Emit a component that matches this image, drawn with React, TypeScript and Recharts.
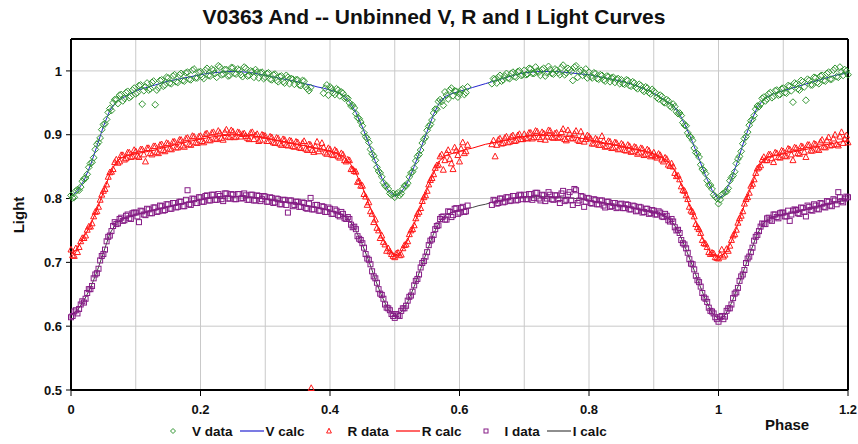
import React from 'react';
import { ComposedChart, Scatter, Line, XAxis, YAxis, CartesianGrid } from 'recharts';

// ---- sampling grids (phase) ----
const calcPhase: number[] = Array.from({ length: 121 }, (_, k) => k / 100);
const dataPhase: number[] = Array.from({ length: 241 }, (_, k) => (k * 5) / 1000);
const dataPhase2: number[] = Array.from({ length: 240 }, (_, k) => (k * 5 + 2.5) / 1000);

const xTicks = [0, 0.1, 0.2, 0.3, 0.4, 0.5, 0.6, 0.7, 0.8, 0.9, 1, 1.1, 1.2];
const xLabelTicks = [0, 0.2, 0.4, 0.6, 0.8, 1, 1.2];
const yTicks = [0.5, 0.6, 0.7, 0.8, 0.9, 1];

// ---- model (calc) curves, phase step 0.01 ----
const vCalc = [
  0.803, 0.812, 0.828, 0.852, 0.882, 0.913, 0.938, 0.952, 0.958, 0.963,
  0.969, 0.972, 0.975, 0.978, 0.981, 0.984, 0.986, 0.988, 0.990, 0.992,
  0.994, 0.996, 0.997, 0.998, 0.999, 0.999, 0.999, 0.998, 0.997, 0.995,
  0.993, 0.991, 0.989, 0.987, 0.985, 0.983, 0.980, 0.978, 0.975, 0.973,
  0.970, 0.967, 0.962, 0.952, 0.935, 0.912, 0.886, 0.858, 0.832, 0.813,
  0.804, 0.810, 0.826, 0.850, 0.878, 0.905, 0.932, 0.952, 0.961, 0.965,
  0.968, 0.971, 0.974, 0.977, 0.980, 0.983, 0.986, 0.989, 0.992, 0.995,
  0.997, 0.998, 0.999, 0.999, 0.999, 0.999, 0.998, 0.997, 0.996, 0.995,
  0.994, 0.992, 0.990, 0.988, 0.986, 0.984, 0.981, 0.978, 0.974, 0.970,
  0.965, 0.959, 0.952, 0.946, 0.932, 0.912, 0.888, 0.862, 0.836, 0.813,
  0.799, 0.808, 0.831, 0.860, 0.892, 0.920, 0.943, 0.956, 0.962, 0.966,
  0.969, 0.972, 0.975, 0.978, 0.981, 0.984, 0.987, 0.990, 0.993, 0.995,
  0.997,
];
const rCalc = [
  0.712, 0.722, 0.740, 0.758, 0.783, 0.810, 0.838, 0.858, 0.865, 0.868,
  0.870, 0.872, 0.874, 0.876, 0.879, 0.881, 0.884, 0.886, 0.889, 0.891,
  0.893, 0.895, 0.897, 0.898, 0.899, 0.900, 0.900, 0.899, 0.898, 0.897,
  0.895, 0.893, 0.891, 0.889, 0.887, 0.885, 0.883, 0.881, 0.879, 0.877,
  0.874, 0.871, 0.866, 0.857, 0.840, 0.818, 0.792, 0.765, 0.740, 0.720,
  0.711, 0.716, 0.735, 0.760, 0.787, 0.814, 0.840, 0.860, 0.868, 0.871,
  0.874, 0.877, 0.879, 0.882, 0.885, 0.887, 0.889, 0.891, 0.893, 0.895,
  0.897, 0.898, 0.899, 0.899, 0.899, 0.899, 0.898, 0.897, 0.896, 0.894,
  0.892, 0.890, 0.888, 0.886, 0.884, 0.882, 0.880, 0.878, 0.876, 0.873,
  0.870, 0.866, 0.860, 0.848, 0.828, 0.803, 0.776, 0.750, 0.727, 0.713,
  0.709, 0.714, 0.733, 0.760, 0.790, 0.818, 0.845, 0.862, 0.866, 0.868,
  0.870, 0.872, 0.874, 0.876, 0.878, 0.880, 0.883, 0.885, 0.887, 0.889,
  0.891,
];
const iCalc = [
  0.617, 0.625, 0.640, 0.660, 0.685, 0.715, 0.745, 0.762, 0.768, 0.772,
  0.775, 0.777, 0.780, 0.782, 0.785, 0.787, 0.790, 0.792, 0.794, 0.796,
  0.798, 0.800, 0.801, 0.802, 0.803, 0.803, 0.803, 0.803, 0.802, 0.801,
  0.800, 0.798, 0.797, 0.795, 0.794, 0.792, 0.790, 0.788, 0.786, 0.784,
  0.781, 0.778, 0.774, 0.766, 0.750, 0.728, 0.702, 0.673, 0.647, 0.626,
  0.616, 0.622, 0.638, 0.662, 0.690, 0.718, 0.745, 0.765, 0.775, 0.779,
  0.782, 0.784, 0.786, 0.789, 0.791, 0.794, 0.796, 0.798, 0.800, 0.801,
  0.802, 0.803, 0.803, 0.803, 0.803, 0.802, 0.802, 0.801, 0.800, 0.799,
  0.797, 0.795, 0.794, 0.792, 0.790, 0.789, 0.787, 0.785, 0.783, 0.781,
  0.779, 0.776, 0.771, 0.762, 0.744, 0.720, 0.694, 0.667, 0.641, 0.621,
  0.611, 0.617, 0.636, 0.662, 0.690, 0.718, 0.745, 0.762, 0.770, 0.773,
  0.775, 0.777, 0.779, 0.782, 0.784, 0.786, 0.789, 0.791, 0.794, 0.796,
  0.798,
];

// ---- observed data, set 1, phase step 0.005 (null = no observation) ----
const vData: (number | null)[] = [
  0.805, 0.802, 0.814, 0.818, 0.831, 0.838, 0.855, 0.864, 0.885, 0.895,
  0.916, 0.924, 0.941, 0.950, 0.955, 0.962, 0.953, 0.966, 0.958, 0.970,
  0.964, 0.977, 0.948, 0.975, 0.970, 0.982, 0.947, 0.974, 0.986, 0.978,
  0.989, 0.980, 0.994, 0.982, 0.996, 0.984, 0.998, 0.986, 1.003, 0.989,
  0.999, 0.988, 1.004, 0.992, 1.001, 0.990, 1.006, 0.995, 1.002, 0.993,
  1.005, 0.995, 1.001, 0.991, 1.004, 0.993, 0.999, 1.002, 0.989, 0.998,
  0.990, 0.997, 0.986, 0.995, 0.983, 0.992, 0.981, 0.990, 0.988, 0.979,
  0.986, 0.977, 0.984, 0.972, 0.974, null, null, null, 0.965, 0.978,
  0.975, 0.966, 0.972, 0.961, 0.965, 0.958, 0.950, 0.946, 0.933, 0.925,
  0.914, 0.897, 0.888, 0.870, 0.860, 0.843, 0.834, 0.820, 0.815, 0.806,
  0.802, 0.809, 0.808, 0.820, 0.824, 0.840, 0.848, 0.866, 0.876, 0.893,
  0.907, 0.916, 0.934, 0.940, 0.955, 0.946, 0.962, 0.970, 0.961, 0.968,
  0.964, 0.972, 0.966, null, null, null, null, null, null, null,
  0.980, 0.987, 0.990, 0.984, 0.992, 0.989, 0.996, 0.991, 0.999, 0.993,
  1.001, 0.995, 1.003, 0.996, 1.000, 0.993, 1.004, 0.997, 1.002, 0.995,
  1.001, 0.994, 1.009, 0.997, 1.002, 0.985, 1.008, 0.999, 0.993, 1.003,
  0.998, 0.989, 0.996, 0.987, 0.993, 0.984, 0.991, 0.989, 0.982, 0.988,
  0.986, 0.979, 0.985, 0.976, 0.981, 0.972, 0.977, 0.968, 0.973, 0.964,
  0.968, 0.958, 0.962, 0.951, 0.955, 0.945, 0.948, 0.936, 0.934, 0.919,
  0.914, 0.898, 0.891, 0.872, 0.865, 0.846, 0.839, 0.821, 0.815, 0.803,
  0.792, 0.806, 0.810, 0.816, 0.833, 0.842, 0.862, 0.874, 0.894, 0.904,
  0.922, 0.930, 0.945, 0.948, 0.959, 0.956, 0.966, 0.960, 0.970, 0.963,
  0.973, 0.965, 0.976, 0.951, 0.979, 0.970, 0.983, 0.954, 0.985, 0.978,
  0.989, 0.980, 0.993, 0.984, 0.998, 0.987, 1.004, 0.990, 0.999, 1.002,
  0.994,
];
const rData: (number | null)[] = [
  0.720, 0.710, 0.716, 0.733, 0.738, 0.751, 0.756, 0.772, 0.780, 0.798,
  0.812, 0.822, 0.841, 0.846, 0.861, 0.858, 0.868, 0.863, 0.872, 0.866,
  0.874, 0.865, 0.877, 0.858, 0.879, 0.869, 0.882, 0.871, 0.885, 0.874,
  0.886, 0.877, 0.889, 0.880, 0.892, 0.881, 0.895, 0.884, 0.897, 0.887,
  0.898, 0.888, 0.902, 0.891, 0.904, 0.893, 0.903, 0.892, 0.908, 0.896,
  0.905, 0.897, 0.903, 0.901, 0.898, 0.893, 0.904, 0.899, 0.890, 0.900,
  0.898, 0.890, 0.896, 0.887, 0.894, 0.884, 0.892, 0.883, 0.890, 0.881,
  0.888, 0.879, 0.890, 0.876, 0.884, 0.873, 0.889, 0.878, 0.880, 0.870,
  0.877, 0.868, 0.874, 0.864, 0.869, 0.858, 0.860, 0.846, 0.842, 0.827,
  0.820, 0.803, 0.794, 0.776, 0.767, 0.750, 0.742, 0.728, 0.722, 0.713,
  0.708, 0.715, 0.712, 0.727, 0.733, 0.750, 0.758, 0.776, 0.785, 0.802,
  0.812, 0.829, 0.838, 0.852, 0.866, 0.845, 0.871, 0.862, 0.846, 0.875,
  0.858, 0.888, 0.874, null, null, null, null, null, null, null,
  0.885, 0.866, 0.892, 0.886, 0.895, 0.888, 0.897, 0.890, 0.899, 0.893,
  0.901, 0.894, 0.903, 0.896, 0.905, 0.893, 0.902, 0.897, 0.906, 0.895,
  0.903, 0.896, 0.909, 0.891, 0.902, 0.895, 0.906, 0.890, 0.898, 0.893,
  0.897, 0.886, 0.894, 0.884, 0.898, 0.881, 0.890, 0.879, 0.888, 0.877,
  0.886, 0.876, 0.884, 0.873, 0.881, 0.870, 0.879, 0.868, 0.877, 0.866,
  0.872, 0.864, 0.868, 0.858, 0.862, 0.851, 0.850, 0.835, 0.830, 0.813,
  0.805, 0.787, 0.779, 0.760, 0.752, 0.735, 0.729, 0.716, 0.715, 0.708,
  0.706, 0.720, 0.712, 0.718, 0.735, 0.744, 0.762, 0.773, 0.792, 0.802,
  0.820, 0.830, 0.847, 0.852, 0.865, 0.860, 0.869, 0.857, 0.871, 0.864,
  0.874, 0.866, 0.877, 0.860, 0.879, 0.870, 0.881, 0.865, 0.884, 0.875,
  0.885, 0.876, 0.892, 0.880, 0.896, 0.884, 0.900, 0.883, 0.904, 0.893,
  0.888,
];
const iData: (number | null)[] = [
  0.614, 0.623, 0.620, 0.634, 0.637, 0.652, 0.658, 0.675, 0.683, 0.703,
  0.713, 0.733, 0.742, 0.757, 0.760, 0.768, 0.765, 0.773, 0.769, 0.777,
  0.778, 0.763, 0.780, 0.774, 0.783, 0.777, 0.786, 0.780, 0.788, 0.782,
  0.791, 0.784, 0.793, 0.787, 0.795, 0.788, 0.813, 0.790, 0.799, 0.793,
  0.802, 0.795, 0.805, 0.797, 0.806, 0.798, 0.804, 0.796, 0.808, 0.800,
  0.806, 0.799, 0.807, 0.801, 0.805, 0.798, 0.806, 0.797, 0.804, 0.799,
  0.803, 0.795, 0.801, 0.794, 0.799, 0.791, 0.798, 0.778, 0.797, 0.790,
  0.795, 0.787, 0.793, 0.784, 0.801, 0.783, 0.790, 0.781, 0.787, 0.779,
  0.784, 0.776, 0.781, 0.772, 0.776, 0.768, 0.768, 0.755, 0.752, 0.737,
  0.730, 0.713, 0.704, 0.686, 0.675, 0.658, 0.649, 0.634, 0.628, 0.619,
  0.613, 0.617, 0.624, 0.628, 0.640, 0.648, 0.664, 0.674, 0.692, 0.702,
  0.716, 0.734, 0.743, 0.757, 0.768, 0.772, 0.767, 0.779, 0.774, 0.785,
  0.778, 0.787, 0.780, null, null, null, null, null, null, null,
  0.790, 0.797, 0.793, 0.800, 0.795, 0.802, 0.797, 0.804, 0.798, 0.805,
  0.806, 0.799, 0.807, 0.801, 0.809, 0.797, 0.805, 0.800, 0.806, 0.798,
  0.805, 0.793, 0.812, 0.798, 0.810, 0.790, 0.813, 0.797, 0.803, 0.795,
  0.800, 0.792, 0.798, 0.791, 0.797, 0.786, 0.795, 0.788, 0.793, 0.786,
  0.792, 0.785, 0.790, 0.783, 0.788, 0.781, 0.786, 0.779, 0.784, 0.777,
  0.781, 0.775, 0.778, 0.771, 0.773, 0.764, 0.764, 0.750, 0.746, 0.730,
  0.722, 0.705, 0.697, 0.679, 0.669, 0.652, 0.643, 0.629, 0.623, 0.614,
  0.607, 0.616, 0.615, 0.628, 0.634, 0.651, 0.660, 0.678, 0.688, 0.706,
  0.716, 0.734, 0.743, 0.756, 0.760, 0.769, 0.767, 0.775, 0.771, 0.777,
  0.778, 0.772, 0.765, 0.781, 0.782, 0.776, 0.785, 0.772, 0.787, 0.781,
  0.789, 0.783, 0.792, 0.786, 0.795, 0.788, 0.797, 0.810, 0.796, 0.800,
  0.802,
];

// ---- observed data, set 2, phases offset by 0.0025 ----
const vData2: (number | null)[] = [
  0.801, 0.812, 0.813, 0.827, 0.832, 0.849, 0.857, 0.877, 0.888, 0.908,
  0.917, 0.935, 0.938, 0.955, 0.949, 0.963, 0.957, 0.968, 0.960, 0.973,
  0.966, 0.978, 0.969, 0.981, 0.972, 0.984, 0.970, 0.985, 0.976, 0.990,
  0.981, 0.992, 0.983, 0.994, 0.985, 0.997, 0.987, 1.001, 0.989, 0.998,
  0.991, 1.001, 0.993, 1.003, 0.996, 1.008, 0.994, 1.002, 0.992, 1.005,
  0.996, 1.003, 0.994, 1.006, 0.992, 1.000, 0.990, 0.998, 0.997, 0.988,
  0.996, 0.987, 0.994, 0.985, 0.991, 0.983, 0.993, 0.980, 0.987, 0.986,
  0.978, 0.985, 0.975, 0.969, null, null, null, null, 0.973, 0.962,
  0.972, 0.963, 0.970, 0.967, 0.957, 0.957, 0.945, 0.942, 0.927, 0.920,
  0.903, 0.894, 0.877, 0.867, 0.849, 0.840, 0.825, 0.820, 0.808, 0.808,
  0.807, 0.805, 0.815, 0.820, 0.834, 0.842, 0.859, 0.869, 0.887, 0.896,
  0.913, 0.923, 0.940, 0.952, 0.952, 0.967, 0.956, 0.973, 0.969, 0.959,
  0.970, 0.963, 0.975, null, null, null, null, null, null, null,
  0.988, 0.981, 0.993, 0.986, 0.996, 0.988, 0.998, 0.990, 1.000, 0.994,
  0.994, 1.004, 0.996, 1.006, 0.998, 1.002, 0.992, 1.007, 0.996, 1.003,
  0.997, 1.005, 0.994, 1.004, 0.999, 1.006, 0.990, 1.001, 0.997, 0.989,
  0.991, 0.997, 0.988, 0.994, 0.986, 0.992, 0.983, 0.990, 0.987, 0.980,
  0.980, 0.986, 0.977, 0.983, 0.974, 0.979, 0.970, 0.975, 0.966, 0.971,
  0.966, 0.956, 0.960, 0.950, 0.953, 0.943, 0.944, 0.933, 0.930, 0.915,
  0.903, 0.896, 0.879, 0.870, 0.853, 0.844, 0.828, 0.821, 0.806, 0.800,
  0.798, 0.808, 0.811, 0.828, 0.836, 0.855, 0.866, 0.886, 0.897, 0.915,
  0.924, 0.940, 0.944, 0.957, 0.953, 0.964, 0.958, 0.969, 0.962, 0.972,
  0.966, 0.977, 0.969, 0.981, 0.972, 0.985, 0.975, 0.987, 0.978, 0.990,
  0.982, 0.992, 0.985, 0.996, 0.987, 1.001, 0.991, 1.006, 0.993, 1.000,
];
const rData2: (number | null)[] = [
  0.711, 0.722, 0.724, 0.738, 0.742, 0.756, 0.761, 0.779, 0.787, 0.806,
  0.815, 0.834, 0.842, 0.857, 0.856, 0.868, 0.861, 0.872, 0.865, 0.876,
  0.867, 0.877, 0.869, 0.879, 0.871, 0.882, 0.873, 0.884, 0.876, 0.887,
  0.878, 0.889, 0.880, 0.892, 0.883, 0.894, 0.885, 0.898, 0.888, 0.897,
  0.890, 0.901, 0.892, 0.903, 0.894, 0.906, 0.895, 0.904, 0.897, 0.907,
  0.896, 0.904, 0.897, 0.902, 0.895, 0.903, 0.893, 0.901, 0.892, 0.899,
  0.890, 0.897, 0.888, 0.895, 0.886, 0.893, 0.884, 0.891, 0.882, 0.889,
  0.880, 0.887, 0.878, 0.885, 0.876, 0.882, 0.874, 0.887, 0.872, 0.879,
  0.869, 0.876, 0.866, 0.871, 0.860, 0.861, 0.846, 0.843, 0.826, 0.820,
  0.807, 0.790, 0.780, 0.763, 0.754, 0.738, 0.732, 0.718, 0.717, 0.710,
  0.714, 0.711, 0.722, 0.728, 0.744, 0.752, 0.769, 0.779, 0.796, 0.805,
  0.822, 0.832, 0.848, 0.853, 0.869, 0.860, 0.876, 0.855, 0.880, 0.868,
  0.878, 0.871, 0.884, null, null, null, null, null, null, null,
  0.891, 0.884, 0.894, 0.887, 0.897, 0.889, 0.899, 0.891, 0.901, 0.893,
  0.895, 0.903, 0.894, 0.906, 0.896, 0.904, 0.892, 0.907, 0.896, 0.902,
  0.895, 0.904, 0.893, 0.907, 0.894, 0.902, 0.892, 0.905, 0.889, 0.899,
  0.894, 0.886, 0.892, 0.884, 0.890, 0.882, 0.889, 0.880, 0.887, 0.878,
  0.884, 0.875, 0.882, 0.874, 0.880, 0.872, 0.878, 0.870, 0.875, 0.868,
  0.866, 0.870, 0.861, 0.864, 0.853, 0.855, 0.840, 0.836, 0.819, 0.812,
  0.799, 0.781, 0.772, 0.755, 0.746, 0.730, 0.724, 0.713, 0.714, 0.707,
  0.712, 0.709, 0.721, 0.726, 0.742, 0.751, 0.769, 0.780, 0.799, 0.809,
  0.823, 0.840, 0.849, 0.861, 0.860, 0.869, 0.863, 0.872, 0.865, 0.875,
  0.867, 0.878, 0.869, 0.880, 0.871, 0.882, 0.873, 0.884, 0.875, 0.886,
  0.878, 0.889, 0.881, 0.891, 0.883, 0.894, 0.885, 0.897, 0.887, 0.899,
];
const iData2: (number | null)[] = [
  0.616, 0.625, 0.627, 0.639, 0.643, 0.658, 0.663, 0.681, 0.690, 0.710,
  0.720, 0.740, 0.749, 0.763, 0.761, 0.770, 0.766, 0.775, 0.768, 0.778,
  0.772, 0.781, 0.775, 0.784, 0.777, 0.786, 0.779, 0.789, 0.781, 0.791,
  0.784, 0.793, 0.786, 0.795, 0.788, 0.798, 0.791, 0.800, 0.793, 0.802,
  0.795, 0.804, 0.797, 0.806, 0.798, 0.807, 0.799, 0.808, 0.800, 0.807,
  0.799, 0.807, 0.800, 0.808, 0.798, 0.806, 0.797, 0.805, 0.796, 0.804,
  0.795, 0.802, 0.793, 0.800, 0.791, 0.798, 0.790, 0.797, 0.788, 0.795,
  0.787, 0.794, 0.785, 0.792, 0.783, 0.790, 0.781, 0.788, 0.779, 0.786,
  0.776, 0.783, 0.774, 0.779, 0.769, 0.771, 0.759, 0.756, 0.741, 0.735,
  0.723, 0.706, 0.697, 0.678, 0.668, 0.651, 0.643, 0.629, 0.625, 0.616,
  0.619, 0.616, 0.628, 0.632, 0.646, 0.654, 0.671, 0.681, 0.699, 0.709,
  0.727, 0.736, 0.752, 0.758, 0.771, 0.767, 0.780, 0.771, 0.784, 0.776,
  0.785, 0.779, 0.789, null, null, null, null, null, null, null,
  0.798, 0.792, 0.800, 0.794, 0.802, 0.796, 0.804, 0.797, 0.806, 0.799,
  0.799, 0.807, 0.798, 0.809, 0.800, 0.806, 0.796, 0.810, 0.799, 0.805,
  0.799, 0.808, 0.796, 0.806, 0.797, 0.815, 0.793, 0.804, 0.787, 0.801,
  0.793, 0.799, 0.791, 0.797, 0.789, 0.795, 0.787, 0.793, 0.785, 0.791,
  0.785, 0.791, 0.783, 0.789, 0.780, 0.787, 0.778, 0.784, 0.776, 0.782,
  0.775, 0.780, 0.772, 0.776, 0.766, 0.768, 0.755, 0.751, 0.735, 0.728,
  0.715, 0.698, 0.689, 0.672, 0.662, 0.645, 0.638, 0.624, 0.620, 0.611,
  0.614, 0.611, 0.624, 0.628, 0.644, 0.653, 0.671, 0.681, 0.699, 0.709,
  0.723, 0.740, 0.749, 0.761, 0.760, 0.770, 0.765, 0.775, 0.769, 0.778,
  0.772, 0.781, 0.775, 0.783, 0.777, 0.786, 0.779, 0.789, 0.782, 0.791,
  0.784, 0.793, 0.787, 0.796, 0.789, 0.799, 0.791, 0.802, 0.794, 0.803,
];

// isolated outlying observation
const rOutlierPhase = [0.371];
const rOutlierLight = [0.503];

const V_COLOR = '#339633';
const V_LINE = '#2424d0';
const R_COLOR = '#ff1a1a';
const R_LINE = '#ff0000';
const I_COLOR = '#861c86';
const I_LINE = '#444444';

const FONT = '"Liberation Sans", Arial, sans-serif';
const TICK_SIZE = 6;
const TICK_MARGIN = 9;

// chart geometry
const CHART_W = 858;
const CHART_H = 444;
const MARGIN = { top: 39, right: 10, bottom: 24, left: 0 };
const Y_AXIS_W = 71;
const X_AXIS_H = 30;
const PLOT_TOP = MARGIN.top;
const PLOT_RIGHT = CHART_W - MARGIN.right;

type Pt = { phase: number; light: number };
const makePoints = (phases: number[], values: (number | null)[]): Pt[] =>
  phases
    .map((p, i) => ({ phase: p, light: values[i] as number }))
    .filter((d) => d.light !== null && d.light !== undefined);

const vCalcPts = makePoints(calcPhase, vCalc);
const rCalcPts = makePoints(calcPhase, rCalc);
const iCalcPts = makePoints(calcPhase, iCalc);
const vDataPts = [...makePoints(dataPhase, vData), ...makePoints(dataPhase2, vData2)];
const rDataPts = [
  ...makePoints(dataPhase, rData),
  ...makePoints(dataPhase2, rData2),
  ...makePoints(rOutlierPhase, rOutlierLight),
];
const iDataPts = [...makePoints(dataPhase, iData), ...makePoints(dataPhase2, iData2)];

const Diamond = (props: any) => {
  const { cx, cy } = props;
  if (cx == null || cy == null) return null;
  const r = 3.4;
  return (
    <path
      d={`M${cx},${cy - r}L${cx + r},${cy}L${cx},${cy + r}L${cx - r},${cy}Z`}
      fill="none"
      stroke={V_COLOR}
      strokeWidth={1}
    />
  );
};
const Triangle = (props: any) => {
  const { cx, cy } = props;
  if (cx == null || cy == null) return null;
  return (
    <path
      d={`M${cx},${cy - 3.3}L${cx + 3},${cy + 2.4}L${cx - 3},${cy + 2.4}Z`}
      fill="none"
      stroke={R_COLOR}
      strokeWidth={1}
    />
  );
};
const Square = (props: any) => {
  const { cx, cy } = props;
  if (cx == null || cy == null) return null;
  return <rect x={cx - 2.5} y={cy - 2.5} width={5} height={5} fill="none" stroke={I_COLOR} strokeWidth={1} />;
};

const PhaseTick = (props: any) => {
  const { x, y, payload } = props;
  const v = payload?.value;
  if (!xLabelTicks.some((t) => Math.abs(t - v) < 1e-9)) return null;
  return (
    <g>
      <line x1={x} x2={x} y1={y - TICK_MARGIN - TICK_SIZE} y2={y - TICK_MARGIN} stroke="#000" strokeWidth={1} />
      <text
        x={x}
        y={y}
        dy="0.71em"
        textAnchor="middle"
        fontSize={13}
        fontWeight={700}
        fill="#111"
        fontFamily={FONT}
      >
        {String(v)}
      </text>
    </g>
  );
};

const legendItems = [
  { label: 'V data', kind: 'diamond', color: V_COLOR },
  { label: 'V calc', kind: 'line', color: V_LINE },
  { label: 'R data', kind: 'triangle', color: R_COLOR },
  { label: 'R calc', kind: 'line', color: R_LINE },
  { label: 'I data', kind: 'square', color: I_COLOR },
  { label: 'I calc', kind: 'line', color: I_LINE },
];

const LegendMarker = ({ kind, color }: { kind: string; color: string }) => {
  if (kind === 'line') {
    return (
      <svg width={24} height={10} style={{ display: 'block' }}>
        <line x1={0} y1={5} x2={24} y2={5} stroke={color} strokeWidth={1.2} />
      </svg>
    );
  }
  return (
    <svg width={18} height={10} style={{ display: 'block' }}>
      {kind === 'diamond' && <path d="M9,2.5L11.5,5L9,7.5L6.5,5Z" fill="none" stroke={color} strokeWidth={1} />}
      {kind === 'triangle' && <path d="M9,2.2L11.4,7L6.6,7Z" fill="none" stroke={color} strokeWidth={1} />}
      {kind === 'square' && <rect x={7} y={3} width={4} height={4} fill="none" stroke={color} strokeWidth={1} />}
    </svg>
  );
};

const tickStyle = { fontSize: 13, fontWeight: 700, fill: '#111', fontFamily: FONT };
const frameLine = { stroke: '#000', strokeWidth: 2 };

export default function App() {
  return (
    <div
      style={{
        position: 'absolute',
        left: 0,
        top: 0,
        width: CHART_W,
        height: CHART_H,
        background: '#fff',
        fontFamily: FONT,
      }}
    >
      <div
        style={{
          position: 'absolute',
          left: 0,
          top: 5,
          width: 868,
          textAlign: 'center',
          fontSize: 21,
          fontWeight: 700,
          lineHeight: '24px',
          color: '#111',
        }}
      >
        V0363 And -- Unbinned V, R and I Light Curves
      </div>

      <ComposedChart width={CHART_W} height={CHART_H} margin={MARGIN}>
        <CartesianGrid stroke="#c9c9c9" strokeWidth={1} />
        {/* top and right edges of the plot frame */}
        <CartesianGrid vertical={false} horizontalPoints={[PLOT_TOP]} stroke="#000" strokeWidth={2} />
        <CartesianGrid horizontal={false} verticalPoints={[PLOT_RIGHT]} stroke="#000" strokeWidth={2} />
        <XAxis
          type="number"
          dataKey="phase"
          domain={[0, 1.2]}
          ticks={xTicks}
          interval={0}
          axisLine={frameLine}
          tickLine={false}
          tickSize={TICK_SIZE}
          tickMargin={TICK_MARGIN}
          tick={<PhaseTick />}
          height={X_AXIS_H}
        />
        <YAxis
          type="number"
          dataKey="light"
          domain={[0.5, 1.05]}
          ticks={yTicks}
          interval={0}
          axisLine={frameLine}
          tickLine={{ stroke: '#000' }}
          tickSize={5}
          tickMargin={4}
          tick={tickStyle}
          width={Y_AXIS_W}
        />
        <Scatter name="V data" data={vDataPts} shape={Diamond} isAnimationActive={false} />
        <Line
          name="V calc"
          data={vCalcPts}
          dataKey="light"
          type="linear"
          stroke={V_LINE}
          strokeWidth={1}
          dot={false}
          activeDot={false}
          isAnimationActive={false}
        />
        <Scatter name="R data" data={rDataPts} shape={Triangle} isAnimationActive={false} />
        <Line
          name="R calc"
          data={rCalcPts}
          dataKey="light"
          type="linear"
          stroke={R_LINE}
          strokeWidth={1}
          dot={false}
          activeDot={false}
          isAnimationActive={false}
        />
        <Scatter name="I data" data={iDataPts} shape={Square} isAnimationActive={false} />
        <Line
          name="I calc"
          data={iCalcPts}
          dataKey="light"
          type="linear"
          stroke={I_LINE}
          strokeWidth={1}
          dot={false}
          activeDot={false}
          isAnimationActive={false}
        />
      </ComposedChart>

      <div
        style={{
          position: 'absolute',
          left: 10,
          top: 215,
          transform: 'translate(-50%, -50%) rotate(-90deg)',
          transformOrigin: 'center',
          marginLeft: 8,
          fontSize: 15,
          fontWeight: 700,
          color: '#111',
          whiteSpace: 'nowrap',
        }}
      >
        Light
      </div>

      <div
        style={{
          position: 'absolute',
          left: 765,
          top: 416,
          fontSize: 15,
          fontWeight: 700,
          color: '#111',
          lineHeight: '18px',
        }}
      >
        Phase
      </div>

      <div
        style={{
          position: 'absolute',
          left: 164,
          top: 421,
          height: 20,
          display: 'flex',
          alignItems: 'center',
          fontSize: 13.5,
          fontWeight: 700,
          color: '#111',
          whiteSpace: 'nowrap',
        }}
      >
        {legendItems.map((it, idx) => (
          <div
            key={it.label}
            style={{
              display: 'flex',
              alignItems: 'center',
              marginLeft: idx === 0 ? 0 : it.kind === 'line' ? 7 : 15,
            }}
          >
            <LegendMarker kind={it.kind} color={it.color} />
            <span style={{ marginLeft: it.kind === 'line' ? 2 : 10 }}>{it.label}</span>
          </div>
        ))}
      </div>
    </div>
  );
}
